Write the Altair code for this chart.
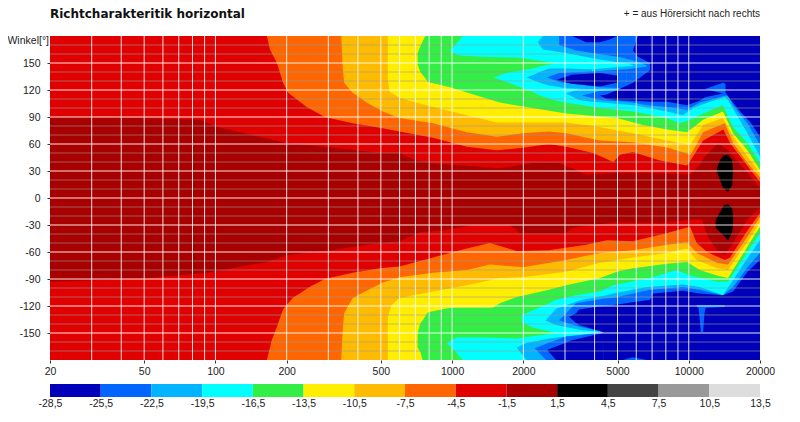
import altair as alt
import pandas as pd

TITLE = "Richtcharakteritik horizontal"
NOTE = "+ = aus Hörersicht nach rechts"
YLABEL = "Winkel[°]"
X_LABELS = [20, 50, 100, 200, 500, 1000, 2000, 5000, 10000, 20000]
Y_LABELS = [-150, -120, -90, -60, -30, 0, 30, 60, 90, 120, 150]
X_GRID = [30, 40, 50, 60, 70, 80, 90, 100, 200, 300, 400, 500, 600, 700, 800, 900, 1000,
          2000, 3000, 4000, 5000, 6000, 7000, 8000, 9000, 10000]
Y_MINOR = [170, 160, 140, 130, 110, 100, 80, 70, 50, 40, 20, 10, -10, -20, -40, -50, -70, -80,
           -100, -110, -130, -140, -160, -170]
LEGEND_EDGES = [-28.5, -25.5, -22.5, -19.5, -16.5, -13.5, -10.5, -7.5, -4.5, -1.5, 1.5, 4.5, 7.5, 10.5, 13.5]
LEGEND_COLORS = ["#0000bb", "#0066ff", "#00b4ff", "#00ffff", "#33ee44", "#ffee00", "#ffbb00",
                 "#ff6600", "#e00000", "#a80000", "#000000", "#444444", "#999999", "#dddddd"]
DARK, BLUE, LB, CYAN, GREEN, YELLOW, AMBER, ORANGE, RED, DRED, BLACK = LEGEND_COLORS[:11]

# (frequency, near edge angle, far edge angle)
BASE = [(20, -180, 180), (20000, -180, 180)]
RED_UP = [(20,90,180),(50,89,180),(86,87,180),(102,79,180),(200,61,180),(312,56,180),(495,50,180),(600,50,180),(700,42,180),(805,39,180),(1590,33,180),(2190,39,180),(2830,39,180),(3340,31,180),(3680,26,180),(4970,28,180),(6860,28,180),(10130,26,180),(11130,37,180),(11720,46,180),(13300,61,180),(14650,53,180),(17300,31,180),(20000,11,180)]
RED_LOW = [(20,-93,-180),(27.5,-92,-180),(53,-89,-180),(92.7,-83,-180),(117,-78,-180),(165,-71,-180),(206,-63,-180),(312,-58,-180),(435,-52,-180),(600,-48,-180),(735,-38,-180),(915,-36,-180),(1225,-30,-180),(1750,-30,-180),(1930,-39,-180),(3030,-39,-180),(3210,-33,-180),(4970,-27,-180),(7560,-28,-180),(10430,-24,-180),(11350,-24,-180),(12050,-43,-180),(13150,-58,-180),(14200,-63,-180),(15400,-50,-180),(17700,-24,-180),(20000,-11,-180)]
ORANGE_UP = [(165,180,180),(170,165,180),(182,150,180),(193,128,180),(203,117,180),(243,101,180),(290,90,180),(380,83,180),(495,78,180),(600,74,180),(830,67,180),(1155,57,180),(1545,53,180),(2030,56,180),(2570,60,180),(3030,57,180),(3950,50,180),(4800,40,180),(5120,48,180),(5810,51,180),(7500,42,180),(9830,36,180),(10430,46,180),(11500,64,180),(14000,76,180),(14950,61,180),(18250,31,180),(20000,18,180)]
ORANGE_LOW = [(165,-180,-180),(173,-158,-180),(182,-143,-180),(193,-124,-180),(212,-111,-180),(250,-99,-180),(290,-90,-180),(380,-83,-180),(495,-78,-180),(600,-76,-180),(830,-66,-180),(1155,-56,-180),(1445,-50,-180),(1875,-59,-180),(2570,-58,-180),(3680,-52,-180),(4500,-47,-180),(5810,-48,-180),(8100,-39,-180),(10130,-32,-180),(10800,-50,-180),(11950,-60,-180),(14200,-69,-180),(14950,-66,-180),(17700,-36,-180),(20000,-17,-180)]
AMBER_UP = [(340,180,180),(345,145,180),(350,128,180),(380,117,180),(435,106,180),(510,96,180),(600,89,180),(830,83,180),(1155,73,180),(1545,68,180),(1990,72,180),(2570,74,180),(3030,72,180),(4210,64,180),(5810,62,180),(8100,56,180),(10200,48,180),(11000,64,180),(11500,73,180),(14200,83,180),(15400,61,180),(17700,39,180),(20000,23,180)]
AMBER_LOW = [(340,-180,-180),(345,-147,-180),(350,-128,-180),(380,-111,-180),(435,-103,-180),(510,-94,-180),(600,-88,-180),(830,-83,-180),(1155,-80,-180),(1445,-74,-180),(1990,-77,-180),(3030,-69,-180),(4210,-61,-180),(5810,-58,-180),(8100,-52,-180),(9830,-49,-180),(10800,-61,-180),(13150,-72,-180),(14650,-74,-180),(17700,-43,-180),(20000,-21,-180)]
YELLOW_UP = [(535,131,180),(545,118,180),(600,111,180),(830,101,180),(1155,92,180),(1545,84,180),(3030,84,180),(4210,79,180),(5810,72,180),(8100,64,180),(10130,59,180),(11500,81,180),(13950,89,180),(15400,68,180),(17700,46,180),(20000,28,180)]
YELLOW_LOW = [(535,-132,-180),(555,-119,-180),(600,-111,-180),(830,-104,-180),(1155,-97,-180),(1590,-89,-180),(1990,-88,-180),(3030,-82,-180),(4210,-72,-180),(5810,-66,-180),(8100,-61,-180),(9830,-56,-180),(10800,-69,-180),(13150,-78,-180),(14650,-80,-180),(17700,-49,-180),(20000,-27,-180)]
GREEN_UP = [(715,148,161),(735,140,169),(770,133,180),(790,129,180),(980,123,180),(1270,114,180),(1590,106,180),(2190,100,180),(3030,94,180),(4970,89,180),(6400,81,180),(8100,76,180),(9830,73,180),(11500,87,180),(13950,96,180),(15400,72,180),(17700,53,180),(20000,31,180)]
GREEN_LOW = [(715,-150,-166),(735,-139,-171),(750,-136,-180),(790,-127,-180),(980,-122,-180),(1485,-122,-180),(1590,-117,-180),(1875,-110,-180),(2570,-102,-180),(3030,-97,-180),(4210,-89,-180),(4970,-82,-180),(5810,-78,-180),(8100,-73,-180),(9830,-71,-180),(11130,-80,-180),(13150,-86,-180),(14650,-89,-180),(17700,-54,-180),(20000,-32,-180)]
CYAN_UP_A = [(980,164,164),(1045,159,172),(1110,158,180),(1350,157,180),(1875,156,180),(2750,150,180)]
CYAN_UP_B = [(1500,134,134),(1700,129,139),(2190,118,144),(2350,114,146),(2750,108,150),(2760,108,180),(3030,106,180),(4210,100,180),(5810,96,180),(8100,89,180),(9160,83,180),(10130,87,180),(11500,94,180),(13950,103,180),(15400,79,180),(17700,61,180),(20000,39,180)]
CYAN_LOW_A = [(950,-161,-161),(1045,-155,-172),(1110,-155,-180),(1350,-155,-180),(1875,-156,-180),(2750,-150,-180)]
CYAN_LOW_B = [(1970,-130,-138),(2190,-125,-144),(2570,-117,-148),(2750,-113,-150),(2760,-113,-180),(3340,-108,-180),(4210,-104,-180),(4800,-97,-180),(6860,-89,-180),(8880,-80,-180),(10130,-86,-180),(13150,-93,-180),(14650,-93,-180),(17700,-60,-180),(20000,-39,-180)]
LB_UP_A = [(2300,173,173),(2420,165,180),(3030,161,180),(4210,154,180),(5810,148,180),(6000,148,180)]
LB_UP_B = [(2065,134,134),(2350,128,140),(2570,125,144),(3030,122,144),(3700,121,143),(3900,121,143)]
LB_UP_C = [(3030,116,116),(3440,109,121),(3900,107,121),(3950,107,143),(5810,103,147),(5900,103,180),(8100,96,180),(9450,92,180),(10430,100,180),(12300,107,180),(14200,112,180),(14650,109,180),(17700,72,180),(20000,46,180)]
LB_LOW_A = [(1875,-166,-166),(2065,-161,-180),(2570,-156,-180),(4340,-149,-180)]
LB_LOW_B = [(2480,-136,-136),(2750,-123,-141),(3540,-113,-147),(4340,-109,-149),(4350,-109,-180),(4800,-106,-180),(6660,-99,-180),(9450,-96,-180),(11130,-99,-180),(13950,-108,-180),(15400,-91,-180),(17700,-67,-180),(20000,-47,-180)]
BLUE_UP_T = [(2830,170,180),(3340,164,180),(5000,157,180),(5810,153,180),(6860,146,180)]
BLUE_UP_L = [(2520,134,134),(2830,129,139),(4210,123,141),(5470,122,143)]
BLUE_UP_M = [(3540,114,114),(4210,109,119),(5470,107,121),(5480,107,143),(5810,106,144),(6650,103,146),(6700,103,180),(8100,101,180),(9830,98,180),(11130,106,180),(12300,109,180),(13950,113,180),(14650,114,180),(15400,103,180),(17700,83,180),(20000,59,180)]
BLUE_LOW_A = [(2235,-167,-167),(2495,-162,-180),(3030,-154,-180),(4340,-150,-180)]
BLUE_LOW_B = [(2830,-136,-136),(3340,-117,-142),(4340,-112,-149),(4350,-112,-180),(4800,-111,-180),(6860,-102,-180),(9450,-99,-180),(11130,-102,-180),(13950,-108,-180),(15400,-99,-180),(17700,-77,-180),(20000,-61,-180)]
BLUE_SPIKE = [(10800,-119,-121),(11000,-119,-122),(11130,-119,-135),(11250,-119,-149),(11500,-119,-149),(11650,-119,-128),(11800,-119,-122),(14200,-119,-121)]
BLUE_BOTTOM = [(5270,-180,-180),(5800,-177,-180),(6660,-180,-180)]
DARK_UP_TOP = [(3210,180,180),(3680,173,180),(4210,173,180),(4640,176,180),(4970,180,180)]
DARK_UP_LENS = [(2750,131,131),(3200,127,137),(4210,124,139),(4970,128,136),(5030,131,131)]
DARK_UP_EDGE = [(5810,164,164),(6100,157,180),(6860,150,180)]
DARK_UP_MAIN = [(4210,114,114),(4500,110,115),(4970,109,120),(5810,108,128),(6860,107,142),(6870,107,180),(8100,107,180),(9830,103,180),(11130,108,180),(11720,112,180),(13950,116,180),(14300,117,180),(14950,110,180),(16500,96,180),(18250,84,180),(20000,68,180)]
BLUE_PEAK = [(11720,121,121),(13950,116,128),(14300,114,127)]
DARK_LOW_A = [(2520,-169,-169),(2750,-165,-180),(3210,-158,-180),(4340,-150,-180)]
DARK_LOW_B = [(3120,-132,-132),(3340,-128,-139),(3440,-124,-141),(4340,-120,-149),(4350,-120,-180),(4500,-120,-180),(6860,-113,-180),(7060,-106,-180),(9450,-103,-180),(11130,-106,-180),(13950,-108,-180),(15400,-104,-180),(17700,-82,-180),(20000,-69,-180)]
BLACK_UP = [(13150,29,33),(13550,20,42),(13950,11,47),(14650,7,48),(15250,14,42),(15400,30,30)]
BLACK_LOW = [(13000,-24,-33),(13550,-16,-38),(14080,-8,-42),(14650,-7,-47),(15250,-11,-38),(15400,-20,-30)]

SHAPES = [
    (DRED, BASE), (RED, RED_UP), (RED, RED_LOW), (ORANGE, ORANGE_UP), (ORANGE, ORANGE_LOW),
    (AMBER, AMBER_UP), (AMBER, AMBER_LOW), (YELLOW, YELLOW_UP), (YELLOW, YELLOW_LOW),
    (GREEN, GREEN_UP), (GREEN, GREEN_LOW), (CYAN, CYAN_UP_A), (CYAN, CYAN_UP_B),
    (CYAN, CYAN_LOW_A), (CYAN, CYAN_LOW_B), (LB, LB_UP_A), (LB, LB_UP_B), (LB, LB_UP_C),
    (LB, LB_LOW_A), (LB, LB_LOW_B), (BLUE, BLUE_UP_T), (BLUE, BLUE_UP_L), (BLUE, BLUE_UP_M),
    (BLUE, BLUE_LOW_A), (BLUE, BLUE_LOW_B),
    (DARK, DARK_UP_TOP), (DARK, DARK_UP_LENS), (DARK, DARK_UP_EDGE), (DARK, DARK_UP_MAIN),
    (DARK, DARK_LOW_A), (DARK, DARK_LOW_B), (BLUE, BLUE_PEAK), (BLUE, BLUE_SPIKE), (BLUE, BLUE_BOTTOM),
    (BLACK, BLACK_UP), (BLACK, BLACK_LOW),
]

FONT = "Liberation Sans"
xs = alt.Scale(type="log", domain=[20, 20000], nice=False)
ys = alt.Scale(domain=[-180, 180], nice=False)
xax = alt.Axis(values=X_LABELS, format="d", title=None, grid=False,
               domain=False, tickColor="#333333", tickSize=3, labelPadding=3, labelFont=FONT,
               labelFontSize=10.5, labelColor="#222222", labelFlush=False, labelOverlap=False)
yax = alt.Axis(values=Y_LABELS, title=None, grid=False,
               domain=False, tickColor="#333333", tickSize=3, labelPadding=7, labelFont=FONT,
               labelFontSize=10.5, labelColor="#222222", labelExpr="datum.value + ''")

layers = []
for color, rows in SHAPES:
    df = pd.DataFrame(rows, columns=["f", "a", "b"])
    layers.append(
        alt.Chart(df).mark_area(color=color, opacity=1, clip=True).encode(
            x=alt.X("f:Q", scale=xs, axis=xax),
            y=alt.Y("a:Q", scale=ys, axis=yax),
            y2="b:Q",
        )
    )

layers.append(
    alt.Chart(pd.DataFrame({"a": Y_MINOR})).mark_rule(color="#999999", opacity=0.6, strokeWidth=1)
    .encode(y=alt.Y("a:Q", scale=ys, axis=yax))
)
layers.append(
    alt.Chart(pd.DataFrame({"f": X_GRID})).mark_rule(color="#ffffff", opacity=0.85, strokeWidth=1)
    .encode(x=alt.X("f:Q", scale=xs, axis=xax))
)
layers.append(
    alt.Chart(pd.DataFrame({"a": Y_LABELS})).mark_rule(color="#ffffff", opacity=0.9, strokeWidth=1)
    .encode(y=alt.Y("a:Q", scale=ys, axis=yax))
)
layers.append(
    alt.Chart(pd.DataFrame({"t": [TITLE]})).mark_text(align="left", baseline="middle", fontWeight="bold",
        font="DejaVu Sans", fontSize=12, color="#111111")
    .encode(x=alt.value(0), y=alt.value(-22), text="t:N")
)
layers.append(
    alt.Chart(pd.DataFrame({"t": [NOTE]})).mark_text(align="right", baseline="middle", font=FONT,
        fontSize=10, color="#222222")
    .encode(x=alt.value(710), y=alt.value(-22), text="t:N")
)
layers.append(
    alt.Chart(pd.DataFrame({"t": [YLABEL]})).mark_text(align="right", baseline="middle", font=FONT,
        fontSize=10.5, color="#222222")
    .encode(x=alt.value(-1), y=alt.value(5), text="t:N")
)
main = alt.layer(*layers).properties(width=710, height=324)

legend_df = pd.DataFrame({"lo": LEGEND_EDGES[:-1], "hi": LEGEND_EDGES[1:], "c": LEGEND_COLORS})
legend = alt.Chart(legend_df).mark_rect().encode(
    x=alt.X("lo:Q", scale=alt.Scale(domain=[-28.5, 13.5], nice=False),
            axis=alt.Axis(values=LEGEND_EDGES, title=None, grid=False, domain=False, ticks=False,
                          labelPadding=1, labelFont=FONT, labelFontSize=10.5, labelColor="#222222",
                          labelFlush=False, labelOverlap=False,
                          labelExpr="replace(datum.value + '', '.', ',')")),
    x2="hi:Q",
    color=alt.Color("c:N", scale=None),
).properties(width=710, height=13)

chart = alt.vconcat(main, legend, spacing=7).properties(
    padding={"left": -1, "top": 0, "right": 0, "bottom": 0}, background="#ffffff"
).configure_view(stroke=None)
chart.save("out.html", embed_options={"renderer": "svg", "actions": False})
